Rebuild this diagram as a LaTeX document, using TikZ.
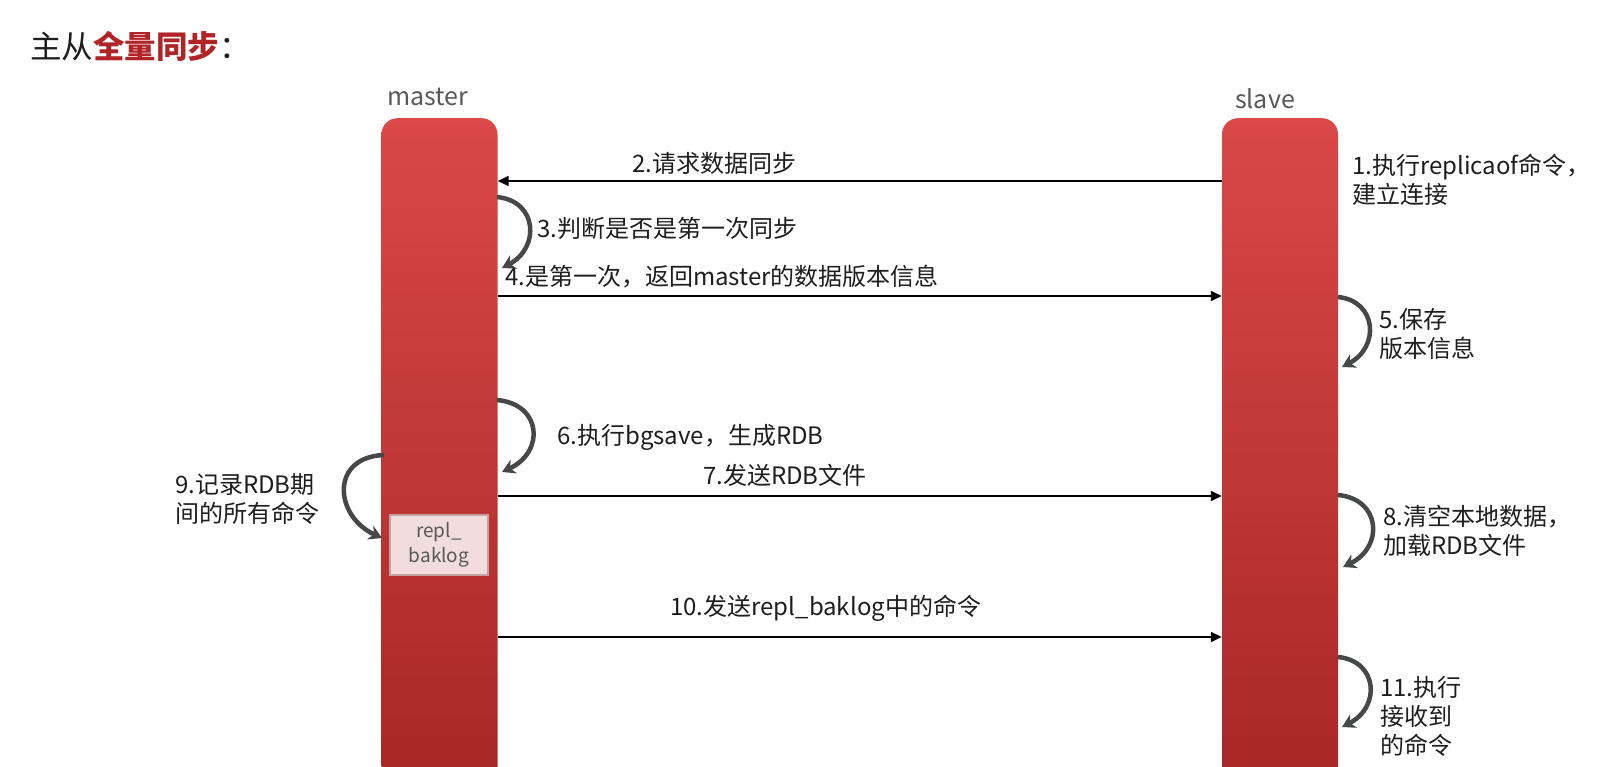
\documentclass[tikz,border=0pt]{standalone}
\usepackage{fontspec}
\setmainfont{Noto Sans CJK SC}
\usetikzlibrary{arrows.meta}
\definecolor{barTop}{RGB}{218,72,72}
\definecolor{barBot}{RGB}{166,38,38}
\definecolor{loopgray}{RGB}{70,72,72}
\definecolor{titlered}{RGB}{176,36,40}
\definecolor{namegray}{RGB}{88,88,88}
\definecolor{logfill}{RGB}{241,221,221}
\definecolor{logedge}{RGB}{196,160,160}
\definecolor{txt}{RGB}{30,30,30}
\begin{document}
\begin{tikzpicture}[x=1pt,y=-1pt,
  bar/.style={rounded corners=16pt, top color=barTop, bottom color=barBot, draw=none,
    minimum width=116pt, minimum height=690pt, anchor=north, inner sep=0pt},
  msg/.style={draw=black, line width=1.6pt, -{Triangle[length=11pt,width=10pt]}},
  selfloop/.style={draw=loopgray, line width=4.5pt, -{Stealth[length=13pt,width=15pt]}},
  lbl/.style={font=\fontsize{24}{29}\selectfont, text=txt, inner sep=0pt, anchor=west, align=left},
  barname/.style={font=\fontsize{25}{30}\selectfont, text=namegray, inner sep=0pt},
  logbox/.style={fill=logfill, draw=logedge, line width=2pt, minimum width=98pt, minimum height=60pt,
    inner sep=0pt, align=center, text=namegray, font=\fontsize{19}{25}\selectfont}
]
\useasboundingbox (0,0) rectangle (1611,767);
\fill[white] (0,0) rectangle (1611,767);

% title
\node[inner sep=0pt, anchor=west, font=\fontsize{31.5}{36}\selectfont, text=txt] (title) at (30,46)
  {主从{\bfseries\color{titlered}全量同步}：};

% lifelines
\node[bar] (master) at (439.5,118) {};
\node[bar] (slave) at (1280,118) {};
\node[barname] (mname) at (428,97) {master};
\node[barname] (sname) at (1265,99) {slave};

% repl_baklog
\node[logbox] (log) at (439,545) {repl\_\\baklog};

% y levels
\coordinate (y2) at (0,181);
\coordinate (y4) at (0,296);
\coordinate (y7) at (0,496);
\coordinate (y10) at (0,637);

% messages
\draw[msg] (slave.west |- y2) -- (master.east |- y2);
\draw[msg] (master.east |- y4) -- (slave.west |- y4);
\draw[msg] (master.east |- y7) -- (slave.west |- y7);
\draw[msg] (master.east |- y10) -- (slave.west |- y10);

% self loops
\coordinate (l3a) at (497,197);  \coordinate (l3b) at (502,268);
\coordinate (l6a) at (497,400);  \coordinate (l6b) at (502,472);
\coordinate (l5a) at (1338,297); \coordinate (l5b) at (1342,367);
\coordinate (l8a) at (1338,495); \coordinate (l8b) at (1343,567);
\coordinate (l11a) at (1338,657); \coordinate (l11b) at (1342,727);
\coordinate (l9a) at (384,455);  \coordinate (l9b) at (382,538);

\draw[selfloop] (l3a) .. controls +(41,4) and +(38,-20) .. (l3b);
\draw[selfloop] (l6a) .. controls +(45,4) and +(43,-20) .. (l6b);
\draw[selfloop] (l5a) .. controls +(39,4) and +(38,-20) .. (l5b);
\draw[selfloop] (l8a) .. controls +(43,4) and +(41,-20) .. (l8b);
\draw[selfloop] (l11a) .. controls +(40,4) and +(39,-20) .. (l11b);
\draw[selfloop] (l9a) .. controls +(-54,2) and +(-48,-22) .. (l9b);

% labels
\node[lbl] (t1) at (1352,180) {1.执行replicaof命令，\\建立连接};
\node[lbl] (t2) at (632,163) {2.请求数据同步};
\node[lbl] (t3) at (537,228) {3.判断是否是第一次同步};
\node[lbl] (t4) at (505,277) {4.是第一次，返回master的数据版本信息};
\node[lbl] (t5) at (1379,334) {5.保存\\版本信息};
\node[lbl] (t6) at (557,437) {6.执行bgsave，生成RDB};
\node[lbl] (t7) at (703,475) {7.发送RDB文件};
\node[lbl] (t8) at (1383,531) {8.清空本地数据，\\加载RDB文件};
\node[lbl] (t9) at (175,499) {9.记录RDB期\\间的所有命令};
\node[lbl] (t10) at (670,608) {10.发送repl\_baklog中的命令};
\node[lbl] (t11) at (1380,716) {11.执行\\接收到\\的命令};
\end{tikzpicture}
\end{document}
